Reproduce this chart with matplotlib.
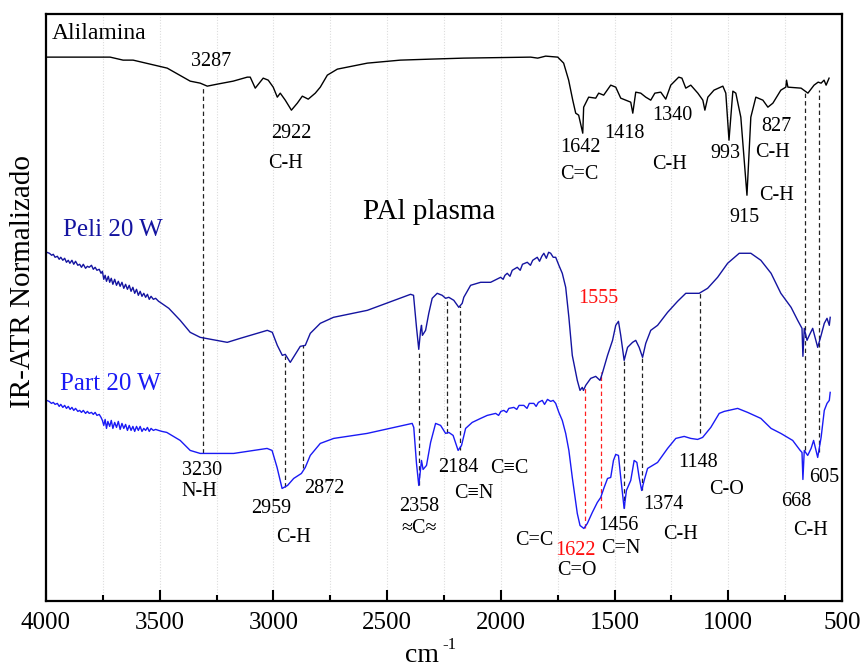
import matplotlib
matplotlib.use("Agg")
import matplotlib.pyplot as plt
from matplotlib.ticker import MultipleLocator, NullLocator

plt.rcParams['font.family'] = ['Liberation Serif', 'DejaVu Serif']

# Alilamina (monomer) spectrum
ali_wn = [3997, 3718, 3661, 3617, 3467, 3366, 3322, 3291, 3247, 3177, 3115, 3102, 3080,
          3045, 3023, 3001, 2983, 2970, 2948, 2921, 2895, 2873, 2847, 2816, 2794, 2763,
          2719, 2587, 2442, 2309, 2164, 1869, 1838, 1803, 1750, 1724, 1702, 1684, 1671,
          1658, 1640, 1636, 1614, 1583, 1570, 1548, 1517, 1495, 1473, 1451, 1429, 1420,
          1407, 1385, 1363, 1341, 1323, 1297, 1275, 1253, 1218, 1204, 1187, 1165, 1134,
          1112, 1103, 1090, 1063, 1024, 1011, 997, 980, 967, 945, 918, 901, 879, 848,
          826, 804, 769, 747, 744, 738, 680, 650, 623, 605, 592, 579, 570, 557]
ali_i = [543, 543, 540, 540, 532, 519, 517, 514, 516, 519, 523, 523, 512,
         522, 520, 513, 503, 507, 500, 490, 497, 504, 501, 507, 513, 525,
         531, 537, 540, 541, 542, 543, 542, 544, 543, 537, 520, 500, 487,
         485, 467, 493, 503, 502, 507, 505, 515, 513, 502, 500, 498, 487,
         508, 507, 503, 500, 507, 508, 501, 515, 523, 522, 512, 515, 507,
         500, 490, 503, 510, 514, 507, 460, 509, 507, 483, 405, 483, 503, 500,
         493, 497, 510, 513, 520, 513, 512, 507, 515, 518, 517, 520, 515, 522]

# Peli 20 W (film) spectrum
peli_wn = [3997, 3985, 3975, 3968, 3960, 3950, 3942, 3935, 3926, 3918, 3910, 3902, 3895,
           3886, 3878, 3870, 3860, 3852, 3844, 3836, 3826, 3818, 3810, 3800, 3792, 3784,
           3776, 3766, 3758, 3752, 3746, 3740, 3734, 3726, 3720, 3713, 3706, 3698, 3690,
           3682, 3674, 3666, 3658, 3650, 3642, 3634, 3626, 3618, 3610, 3602, 3594, 3586,
           3578, 3570, 3562, 3554, 3546, 3538, 3528, 3518, 3505, 3498,
           3460, 3410, 3366, 3322, 3203,
           3146, 3027, 3005, 2983, 2961, 2948, 2926, 2904, 2882, 2860, 2838, 2794, 2736,
           2587, 2397, 2384, 2371, 2361, 2353, 2349, 2345, 2331, 2317, 2302, 2280, 2258,
           2243, 2229, 2207, 2185, 2170, 2163, 2133, 2089, 2045, 2001, 1990, 1982, 1972,
           1960, 1950, 1928, 1915, 1905, 1884, 1870, 1860, 1840, 1830, 1820, 1811, 1800,
           1790, 1781, 1770, 1759, 1745, 1730, 1715, 1701, 1686, 1664, 1652, 1642, 1637,
           1627, 1605, 1583, 1564, 1554, 1531, 1509, 1495, 1483, 1473, 1458, 1443, 1421,
           1407, 1392, 1377, 1363, 1341, 1311, 1267, 1223, 1187, 1128, 1091, 1047, 1003,
           952, 901, 857, 812, 769, 724, 695, 676, 672, 666, 654, 644, 629, 607, 592,
           578, 566, 556, 552]
peli_i = [348, 347, 345, 346, 343, 344, 341, 343, 340, 342, 338, 340, 337,
          340, 336, 339, 335, 336, 333, 336, 332, 334, 333, 335, 331, 333,
          330, 331, 327, 329, 321, 325, 319, 324, 318, 322, 316, 321, 315,
          319, 314, 318, 312, 316, 311, 315, 309, 313, 307, 311, 305, 309,
          304, 307, 303, 306, 301, 304, 301, 302, 299, 298,
          292, 280, 268, 263, 258,
          262, 270, 268, 255, 245, 246, 238, 246, 254, 255, 267, 277, 283,
          290, 306, 305, 273, 251, 270, 275, 265, 270, 287, 302, 307, 305,
          302, 303, 300, 293, 297, 303, 315, 318, 318, 323, 321, 325, 327,
          324, 330, 333, 330, 336, 338, 335, 340, 343, 339, 344, 347, 342,
          348, 347, 343, 343, 335, 327, 313, 283, 245, 220, 210, 213, 210,
          215, 222, 224, 220, 227, 245, 260, 275, 279, 265, 240, 253, 258,
          260, 253, 243, 257, 270, 275, 288, 299, 307, 307, 312, 323, 337,
          347, 347, 340, 327, 307, 293, 280, 272, 244, 272, 260, 265, 272, 253, 265,
          277, 282, 275, 283]

# Part 20 W (particles) spectrum
part_wn = [3997, 3986, 3976, 3968, 3960, 3950, 3942, 3935, 3926, 3918, 3910, 3902, 3894,
           3886, 3878, 3870, 3860, 3852, 3844, 3836, 3826, 3818, 3810, 3800, 3792, 3784,
           3776, 3766, 3758, 3752, 3746, 3740, 3734, 3728, 3720, 3713, 3706, 3698, 3690,
           3682, 3674, 3666, 3658, 3650, 3642, 3634, 3626, 3618, 3610, 3602, 3594, 3586,
           3578, 3570, 3562, 3554, 3546, 3538, 3528, 3518, 3505, 3490, 3469,
           3410, 3366, 3322, 3175, 3028,
           3006, 2984, 2962, 2938, 2911, 2877, 2860, 2838, 2794, 2735, 2588, 2390, 2383,
           2371, 2361, 2353, 2349, 2342, 2327, 2309, 2287, 2265, 2243, 2229, 2210, 2188,
           2173, 2155, 2126, 2089, 2060, 2023, 2010, 2000, 1987, 1975, 1965, 1943, 1930,
           1920, 1899, 1885, 1875, 1855, 1845, 1835, 1818, 1808, 1795, 1781, 1770, 1759,
           1745, 1730, 1715, 1701, 1686, 1664, 1652, 1635, 1620, 1598, 1576, 1561, 1546,
           1531, 1517, 1505, 1495, 1483, 1473, 1458, 1448, 1429, 1414, 1402, 1392, 1381,
           1370, 1355, 1333, 1311, 1267, 1231, 1194, 1165, 1135, 1113, 1077, 1040, 1018,
           959, 915, 857, 812, 769, 717, 684, 676, 672, 666, 651, 636, 625, 607, 592,
           578, 566, 556, 552]
part_i = [200, 199, 197, 198, 196, 197, 194, 196, 193, 195, 192, 194, 191,
          193, 190, 192, 189, 190, 188, 190, 187, 189, 187, 188, 186, 188,
          185, 186, 183, 180, 175, 181, 172, 179, 174, 180, 172, 178, 173,
          179, 171, 177, 172, 176, 170, 175, 170, 174, 169, 174, 170, 174,
          169, 172, 170, 173, 169, 172, 170, 171, 170, 169, 168,
          160, 150, 147, 147, 152,
          150, 133, 112, 115, 122, 127, 133, 145, 157, 162, 167, 177, 173,
          137, 115, 132, 140, 131, 135, 158, 177, 175, 167, 168, 165, 150,
          155, 172, 178, 182, 185, 187, 185, 189, 190, 188, 192, 193, 191,
          195, 195, 192, 197, 197, 194, 198, 200, 196, 201, 199, 200, 197,
          188, 180, 167, 150, 123, 87, 75, 72, 77, 88, 98, 103, 113,
          122, 123, 140, 146, 145, 123, 92, 110, 120, 140, 138, 123, 110,
          120, 132, 135, 138, 152, 162, 164, 162, 161, 163, 173, 187, 189,
          192, 188, 182, 172, 167, 160, 150, 148, 121, 150, 145, 152, 160, 143, 163,
          190, 197, 200, 208]

# dashed peak markers: wavenumber, top, bottom, colour
markers = [(3310, 514, 147, 'k'), (2948, 244, 113, 'k'), (2871, 255, 132, 'k'),
           (2362, 250, 115, 'k'), (2237, 302, 167, 'k'), (2180, 294, 150, 'k'),
           (1630, 212, 72, 'r'), (1559, 228, 92, 'r'), (1458, 240, 92, 'k'),
           (1379, 243, 110, 'k'), (1124, 308, 167, 'k'), (662, 507, 150, 'k'),
           (603, 510, 148, 'k')]

# peak labels: text, wavenumber, height, colour
labels = [("3287", 3275, 539, 'k'), ("2922", 2923, 467, 'k'), ("C-H", 2945, 437, 'k'),
          ("1642", 1649, 453, 'k'), ("C=C", 1653, 426, 'k'), ("1418", 1455, 467, 'k'),
          ("1340", 1248, 485, 'k'), ("C-H", 1259, 436, 'k'), ("993", 1011, 447, 'k'),
          ("827", 790, 474, 'k'), ("C-H", 805, 448, 'k'), ("C-H", 787, 405, 'k'),
          ("915", 930, 383, 'k'), ("3230", 3315, 130, 'k'), ("N-H", 3325, 109, 'k'),
          ("2959", 3011, 92, 'k'), ("2872", 2776, 112, 'k'), ("C-H", 2911, 63, 'k'),
          ("2358", 2357, 94, 'k'), ("\u2248C\u2248", 2361, 72, 'k'),
          ("2184", 2187, 133, 'k'), ("C\u2261N", 2117, 107, 'k'),
          ("C\u2261C", 1963, 132, 'k'), ("C=C", 1854, 60, 'k'),
          ("1622", 1671, 50, 'r'), ("C=O", 1668, 30, 'k'), ("1555", 1570, 302, 'r'),
          ("1456", 1483, 75, 'k'), ("C=N", 1473, 52, 'k'), ("1374", 1287, 96, 'k'),
          ("C-H", 1210, 66, 'k'), ("1148", 1134, 138, 'k'), ("C-O", 1009, 111, 'k'),
          ("668", 700, 99, 'k'), ("605", 579, 123, 'k'), ("C-H", 640, 70, 'k')]

fig = plt.figure(figsize=(8.63, 6.71), dpi=100)
ax = fig.add_axes([0.0533, 0.105, 0.9224, 0.874])

for x in range(750, 4000, 250):
    ax.axvline(x, color='#dcdcdc', lw=0.8, ls=(0, (1, 1.5)), zorder=0)

for wn, top, bot, c in markers:
    ax.vlines(wn, bot, top, colors='#222222' if c == 'k' else '#ff2020',
              linestyles=(0, (3.5, 2.5)), lw=0.9, zorder=1)

ax.plot(ali_wn, ali_i, color='black', lw=1.0, zorder=2)
ax.plot(peli_wn, peli_i, color='#1414a0', lw=1.0, zorder=2)
ax.plot(part_wn, part_i, color='#1a1af5', lw=1.0, zorder=2)

for txt, x, y, c in labels:
    ax.text(x, y, txt, ha='center', va='center', fontsize=14.5,
            color='black' if c == 'k' else '#ff1010')

ax.text(3975, 567, "Alilamina", ha='left', va='center', fontsize=17)
ax.text(2314, 388, "PAl plasma", ha='center', va='center', fontsize=21)
ax.text(3707, 370, "Peli 20 W", ha='center', va='center', fontsize=18, color='#1414a0')
ax.text(3715, 216, "Part 20 W", ha='center', va='center', fontsize=18, color='#1a1af5')

ax.set_xlim(4000, 500)
ax.set_ylim(0, 586)
ax.xaxis.set_major_locator(MultipleLocator(500))
ax.xaxis.set_minor_locator(MultipleLocator(250))
ax.yaxis.set_major_locator(NullLocator())
ax.tick_params(axis='x', which='major', direction='in', length=8, width=1.5,
               labelsize=18, pad=8)
ax.tick_params(axis='x', which='minor', direction='in', length=4.5, width=1.5)
for s in ax.spines.values():
    s.set_linewidth(1.6)

# x label "cm" with a plain "-1" superscript
fig.text(422 / 863, 1 - 656 / 671, "cm", ha='center', va='center', fontsize=20)
fig.text(449 / 863, 1 - 645 / 671, "-1", ha='center', va='center', fontsize=12)

ax.set_ylabel("IR-ATR Normalizado", fontsize=21)
ax.yaxis.set_label_coords(-0.012, 0.544)

fig.savefig("out.png", dpi=100)
